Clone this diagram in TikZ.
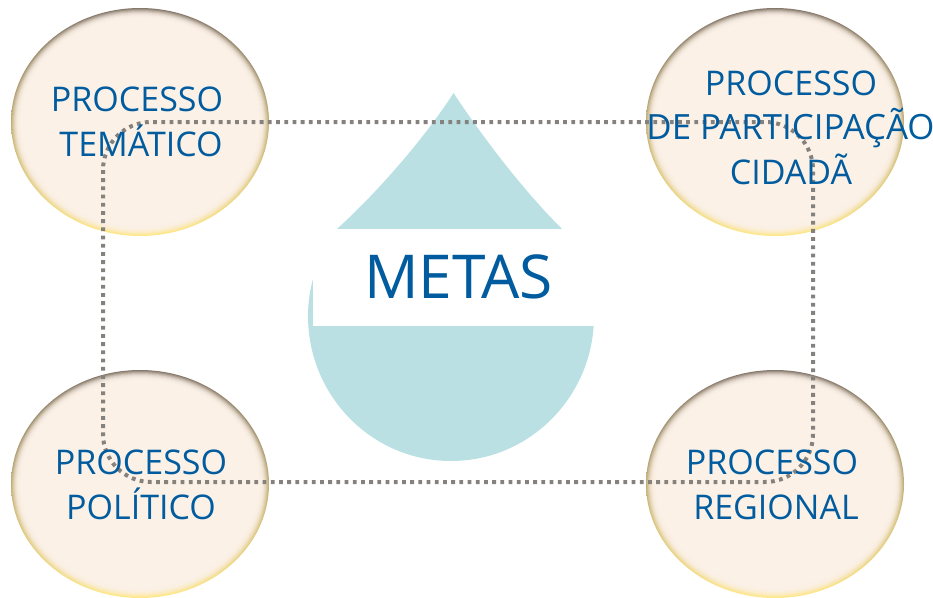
\documentclass[tikz,border=0pt]{standalone}
\usepackage{fontspec}
\setmainfont{Open Sans}
\usetikzlibrary{shapes.geometric}
\definecolor{cream}{HTML}{FCF1E7}
\definecolor{rimtop}{HTML}{85786C}
\definecolor{rimmid}{HTML}{C8925F}
\definecolor{rimlow}{HTML}{FFE88A}
\definecolor{dropc}{HTML}{BAE0E3}
\definecolor{ink}{HTML}{005C9E}
\definecolor{dotc}{HTML}{85817C}
\tikzset{
  bubble/.style={ellipse,inner sep=0pt,minimum width=258pt,minimum height=228pt,
    top color=rimtop,middle color=rimmid,bottom color=rimlow},
  lab/.style={anchor=base,inner sep=0pt,text=ink,font=\fontsize{34}{38}\selectfont},
  widelab/.style={anchor=base,inner sep=0pt,text=ink,font=\fontsize{34.8}{38}\selectfont},
  bigl/.style={anchor=base,inner sep=0pt,text=ink,font=\fontsize{60.5}{64}\selectfont},
  ring/.style={dotc,line width=4pt,dash pattern=on 3.8pt off 4.4pt,rounded corners=48pt}
}
\begin{document}
\begin{tikzpicture}[x=1pt,y=-1pt]
\useasboundingbox (0,0) rectangle (933,597);
% drop
\fill[dropc] (453.5,93) .. controls (428,133) and (383,187) .. (337,229)
  .. controls (322,250) and (308,280) .. (308,316)
  arc[start angle=180,end angle=360,x radius=143,y radius=-145]
  -- (594,316) .. controls (594,290) and (580,250) .. (562,229)
  .. controls (520,187) and (480,133) .. (453.5,93) -- cycle;
\fill[white] (313,229) rectangle (600,326);
% bubbles
\node[bubble] (tl) at (140,122) {};
\node[bubble] (tr) at (775,122) {};
\node[bubble] (bl) at (140,484) {};
\node[bubble] (br) at (775,484) {};
\foreach \n in {tl,tr,bl,br}{
  \foreach \d/\o in {1/.2,2/.25,3/.3,4/.35,5/.4,6/.45,7/.5,8/.6,9/.7,10/1}{
    \fill[cream,opacity=\o] (\n.center) ellipse[x radius=129-\d,y radius=114-\d];
  }
}
% dotted ring
\coordinate (ra) at (103,122);
\coordinate (rb) at (813,482);
\draw[ring] (ra) rectangle (rb);
% labels
\node[lab] (t1a) at (137,111) {PROCESSO};
\node[lab] (t1b) at (141,156) {TEMÁTICO};
\node[lab] (t2a) at (791,95) {PROCESSO};
\node[widelab] (t2b) at (790.5,139) {DE PARTICIPAÇÃO};
\node[lab] (t2c) at (791,184) {CIDADÃ};
\node[lab] (t3a) at (141,474) {PROCESSO};
\node[lab] (t3b) at (141,519) {POLÍTICO};
\node[lab] (t4a) at (772,474) {PROCESSO};
\node[lab] (t4b) at (776,519) {REGIONAL};
\node[bigl] (m) at (458.5,298) {METAS};
\end{tikzpicture}
\end{document}
